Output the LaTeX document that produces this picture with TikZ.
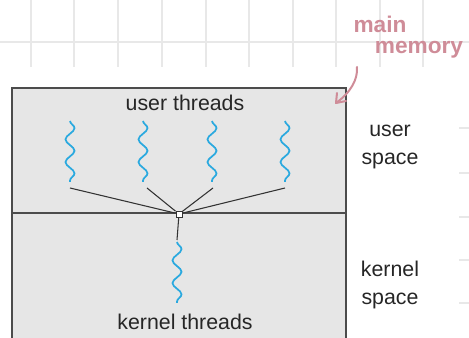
\documentclass[tikz,border=0pt]{standalone}
\usepackage{fontspec}
\setmainfont{Liberation Sans}
\usepackage{tikz}
\usetikzlibrary{decorations.pathmorphing}
\definecolor{threadblue}{HTML}{2AA9DF}
\definecolor{notepink}{HTML}{CF8C98}
\definecolor{boxgray}{HTML}{E6E6E6}
\definecolor{gridgray}{HTML}{E8E8E8}

\begin{document}
\begin{tikzpicture}[x=0.75pt,y=-0.75pt,
  thread/.style={threadblue,line width=1.3pt,decorate,
    decoration={snake,amplitude=3.4pt,segment length=17pt}},
  link/.style={black!80,line width=0.8pt},
  label/.style={font=\fontsize{16}{21}\selectfont,text=black!85,inner sep=1pt},
  note/.style={notepink,line width=1.5pt,line cap=round}]
\useasboundingbox (0,0) rectangle (469,338);
% squared paper at the top
\foreach \i in {31,74,118,162,206,249,293,336,380,423}{
\draw[gridgray,line width=0.9pt] (\i,0) -- (\i,67);
}
\draw[gridgray,line width=0.9pt] (0,42) -- (469,42);
\foreach \i in {128,173,217,260,303}{
\draw[gridgray,line width=0.9pt] (459,\i) -- (469,\i);
}
% memory box
\begin{scope}
\clip (0,0) rectangle (469,338);
\draw[fill=boxgray,draw=black!70,line width=1.1pt] (12,88) rectangle (346,345);
\end{scope}
\draw[black!70,line width=0.9pt] (12,213) -- (346,213);
\node[label] (ut) at (185,103) {user threads};
\node[label] (kt) at (185,322) {kernel threads};
\node[label,align=center] (us) at (390,147) {user\\space};
\node[label,align=center] (ks) at (390,285) {kernel\\space};
% threads
\foreach \x/\b [count=\n] in {70/70,143/147,212/213,285/285}{
\draw[thread] (\x,121) -- (\x,182);
\coordinate (u\n) at (\b,188);
}
\draw[thread] (177,242) -- (177,303);
\coordinate (k1) at (177,240);
\node[draw=black!80,fill=white,line width=0.7pt,minimum size=4.5pt,inner sep=0pt] (hub) at (179,214) {};
\foreach \n in {1,2,3,4}{
\draw[link] (hub) -- (u\n);
}
\draw[link] (hub) -- (k1);
% hand note
\node[notepink,font=\fontsize{17}{17}\selectfont\bfseries,inner sep=0pt] (mn) at (380,24) {main};
\node[notepink,font=\fontsize{17}{17}\selectfont\bfseries,inner sep=0pt] (mm) at (419,50) {memory};
\coordinate (nt) at (357,67);
\coordinate (nh) at (336,103);
\draw[note] (nt) .. controls (358,80) and (350,93) .. (nh);
\draw[note] (nh) -- +(1,-10);
\draw[note] (nh) -- +(10,-2);
\end{tikzpicture}
\end{document}
